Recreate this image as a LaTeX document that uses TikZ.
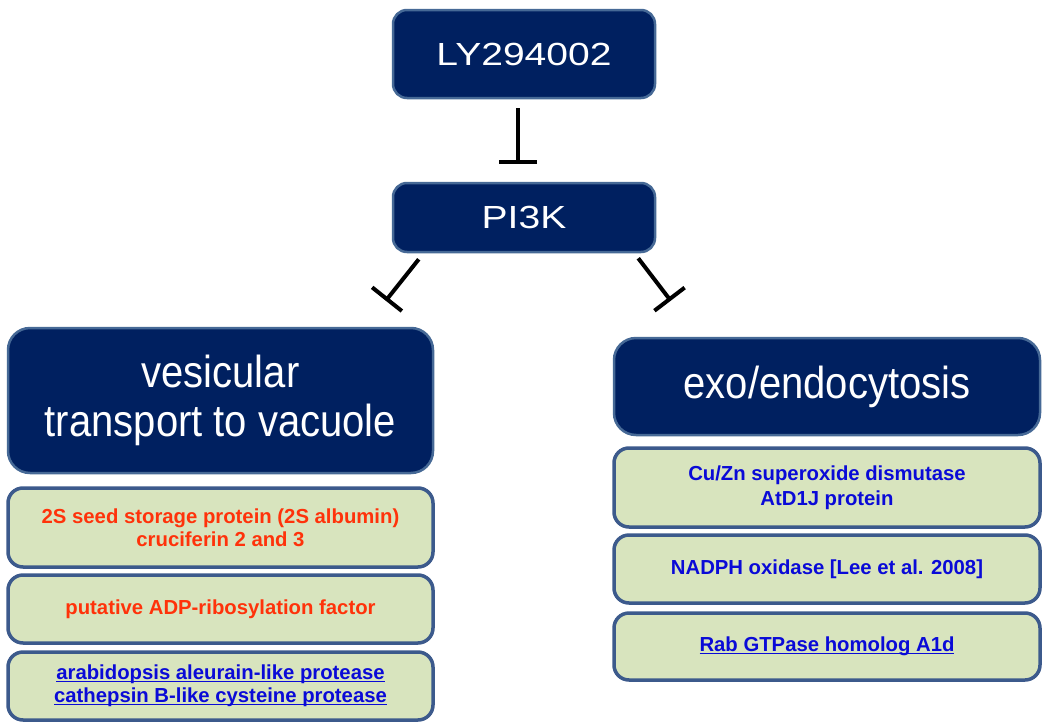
\documentclass[tikz,border=0pt]{standalone}
\usepackage{fontspec}
\setmainfont{Liberation Sans}
\usetikzlibrary{arrows.meta}
\definecolor{navy}{RGB}{0,32,96}
\definecolor{navyedge}{RGB}{70,105,150}
\definecolor{pale}{RGB}{216,228,190}
\definecolor{paleedge}{RGB}{60,90,140}
\definecolor{redtxt}{RGB}{255,50,10}
\definecolor{bluetxt}{RGB}{10,10,215}
\newcommand{\lnk}[1]{\setbox0\hbox{#1}\rlap{\rule[-2.6pt]{\wd0}{1.5pt}}\box0}
\newcommand{\tall}[1]{\scalebox{1}[1.12]{#1}}
\tikzset{
  topbox/.style={draw=navyedge, line width=2.5pt, fill=navy, rounded corners=14pt,
     text=white, minimum width=262pt, inner sep=0pt, align=center,
     font=\fontsize{32}{38}\selectfont},
  bigbox/.style={draw=navyedge, line width=2.5pt, fill=navy, rounded corners=22pt,
     text=white, minimum width=425pt, inner sep=0pt, align=center,
     font=\fontsize{40}{49}\selectfont},
  subbox/.style={draw=paleedge, line width=3.5pt, fill=pale, rounded corners=15pt,
     minimum width=425pt, inner sep=0pt, align=center,
     font=\bfseries\fontsize{20.3}{24}\selectfont},
  redt/.style={text=redtxt},
  bluet/.style={text=bluetxt},
  inhib/.style={line width=4pt, -{Bar[width=38pt]}},
}
\begin{document}
\begin{tikzpicture}[x=1pt,y=-1pt]
\useasboundingbox (0,0) rectangle (1050,723);
\fill[white] (0,0) rectangle (1050,723);
% top nodes
\node[topbox, minimum height=88pt] (ly) at (524,54) {\scalebox{1.22}[1]{LY294002}};
\node[topbox, minimum height=69pt] (pi) at (524,217.5) {\scalebox{1.22}[1]{PI3K}};
% big boxes
\node[bigbox, minimum height=145pt] (ves) at (220.5,400.5) {\tall{vesicular}\\\tall{transport to vacuole}};
\node[bigbox, minimum height=97pt, minimum width=426pt] (exo) at (827,386.5) {\tall{exo/endocytosis}};
% left sub boxes
\node[subbox, redt, minimum height=79pt] (l1) at (220.5,527.5) {2S seed storage protein (2S albumin)\\[-1pt]cruciferin 2 and 3};
\node[subbox, redt, minimum height=68pt] (l2) at (220.5,609) {putative ADP-ribosylation factor};
\node[subbox, bluet, minimum height=68pt] (l3) at (220.5,686) {\lnk{arabidopsis aleurain-like protease}\\[-1pt]\lnk{cathepsin B-like cysteine protease}};
% right sub boxes
\node[subbox, bluet, minimum height=79pt, minimum width=426pt] (r1) at (827,487.5) {Cu/Zn superoxide dismutase\\[1pt]AtD1J protein};
\node[subbox, bluet, minimum height=68pt, minimum width=426pt] (r2) at (827,569) {NADPH oxidase [Lee et al. 2008]};
\node[subbox, bluet, minimum height=67pt, minimum width=426pt] (r3) at (827,646.5) {\lnk{Rab GTPase homolog A1d}};
% inhibition connectors
\draw[inhib] ([shift={(-6,9)}]ly.south) -- ([shift={(-6,-18)}]pi.north);
\draw[inhib] ([shift={(27,6)}]pi.south west) -- ([shift={(379,-26)}]ves.north west);
\draw[inhib] ([shift={(-18,5)}]pi.south east) -- ([shift={(58,-36)}]exo.north west);
\end{tikzpicture}
\end{document}
